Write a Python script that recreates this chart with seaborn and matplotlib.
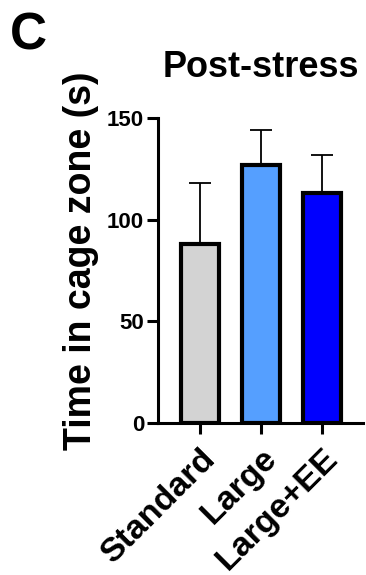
import numpy as np
import pandas as pd
import matplotlib
matplotlib.use("Agg")
import matplotlib.pyplot as plt
import seaborn as sns

# Group means and SD for time spent in the cage zone after stress
groups = ["Standard", "Large", "Large+EE"]
means = [88, 127, 113]
sds = [30, 17, 19]
bar_colors = ["#D3D3D3", "#559FFF", "#0000FF"]
yticks = [0, 50, 100, 150]

sns.set_theme(style="ticks")
plt.rcParams["font.family"] = ["Liberation Sans", "DejaVu Sans"]
plt.rcParams["font.weight"] = "bold"
plt.rcParams["text.color"] = "black"

fig = plt.figure(figsize=(3.66, 5.75), dpi=100)
ax = fig.add_axes([158 / 366, 1 - 423 / 575, 205 / 366, 305 / 575])

df = pd.DataFrame({"group": groups, "mean": means})
sns.barplot(data=df, x="group", y="mean", hue="group", palette=bar_colors,
            legend=False, edgecolor="black", linewidth=3.0, width=0.62,
            saturation=1, errorbar=None, ax=ax, zorder=3)

# upward-only error bars
x = np.arange(len(groups))
ax.errorbar(x, means, yerr=[np.zeros(len(sds)), sds], fmt="none",
            ecolor="black", elinewidth=1.3, capsize=8, capthick=1.3, zorder=2)

ax.set_ylim(0, 150)
ax.set_xlim(-0.69, 2.67)
ax.set_yticks(yticks)
ax.set_yticklabels([str(t) for t in yticks], fontsize=16, fontweight="bold",
                   color="black")
ax.set_xticks(x)
ax.set_xticklabels(groups, fontsize=24.5, fontweight="bold", rotation=45,
                   ha="right", rotation_mode="anchor", color="black")
ax.set_xlabel("")
ax.set_ylabel("")

for side in ["top", "right"]:
    ax.spines[side].set_visible(False)
for side in ["left", "bottom"]:
    ax.spines[side].set_linewidth(2.2)
    ax.spines[side].set_color("black")
ax.tick_params(axis="both", width=2.2, length=8, color="black", labelcolor="black")
ax.tick_params(axis="y", pad=2)
ax.tick_params(axis="x", pad=6)
ax.set_facecolor("white")

fig.text(81 / 366, 1 - 260.5 / 575, "Time in cage zone (s)", rotation=90,
         ha="center", va="center", fontsize=27, fontweight="bold", color="black")
fig.text(260.5 / 366, 1 - 77 / 575, "Post-stress", ha="center",
         va="baseline", fontsize=26, fontweight="bold", color="black")
fig.text(10 / 366, 1 - 50 / 575, "C", ha="left", va="baseline",
         fontsize=37, fontweight="bold", color="black")

fig.savefig("out.png", dpi=100, facecolor="white")
